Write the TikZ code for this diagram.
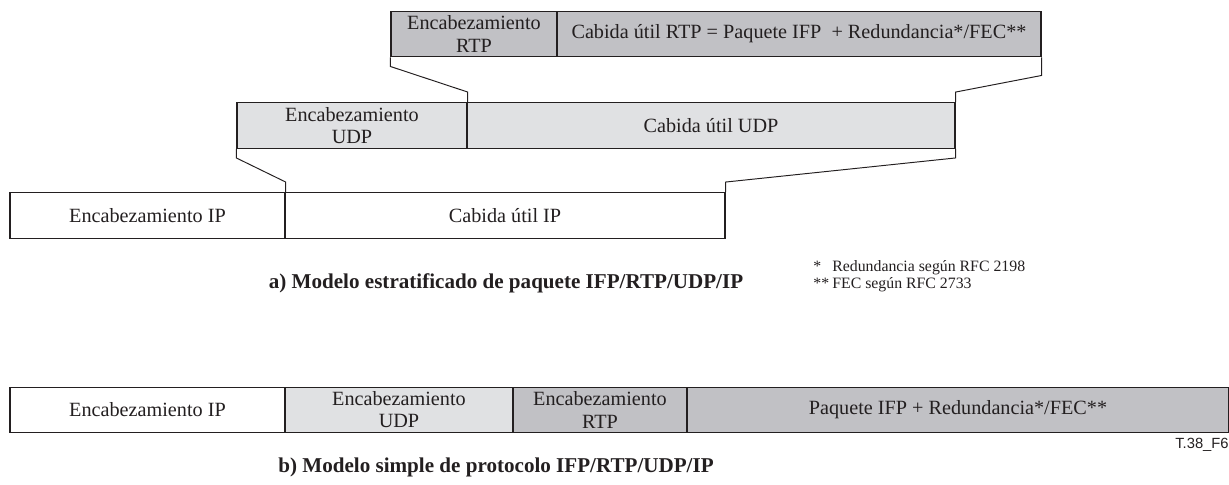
\documentclass[tikz,border=0pt]{standalone}
\usepackage{fontspec}
\setmainfont{Liberation Serif}
\newfontfamily\labelsans{Liberation Sans}
\usepackage{tikz}
\definecolor{rtpgrey}{RGB}{193,193,197}
\definecolor{udpgrey}{RGB}{224,225,227}
\definecolor{inkgrey}{RGB}{35,31,32}
\tikzstyle{cell}=[draw=inkgrey, line width=0.8pt, inner sep=0pt, align=center, text=inkgrey, font=\fontsize{11.5}{12.6}\selectfont]
\tikzstyle{row}=[cell, minimum height=0.91cm]
\tikzstyle{funnel}=[draw=inkgrey, line width=0.55pt]
\tikzstyle{caption}=[text=inkgrey, font=\fontsize{12}{14}\selectfont\bfseries]

\begin{document}
\begin{tikzpicture}
        \useasboundingbox (0, 0) rectangle (24.58, 9.70);
        % a) layered packet
        \node[row, fill=rtpgrey, minimum width=3.32cm] (rtph) at (9.48, 9.02) {Encabezamiento\\RTP};
        \node[row, fill=rtpgrey, minimum width=9.68cm] (rtpp) at (15.98, 9.02) {Cabida útil RTP = Paquete IFP\ \ + Redundancia*/FEC**};
        \node[row, fill=udpgrey, minimum width=4.60cm] (udph) at (7.04, 7.19) {Encabezamiento\\UDP};
        \node[row, fill=udpgrey, minimum width=9.76cm] (udpp) at (14.22, 7.19) {Cabida útil UDP};
        \node[row, fill=white, minimum width=5.50cm] (iph) at (2.95, 5.39) {Encabezamiento IP};
        \node[row, fill=white, minimum width=8.80cm] (ipp) at (10.10, 5.39) {Cabida útil IP};
        \draw[funnel] (rtph.south west) -- ++(0, -0.18) -- ([yshift=0.2cm]udph.north east) -- (udph.north east);
        \draw[funnel] (rtpp.south east) -- ++(0, -0.36) -- ([yshift=0.2cm]udpp.north east) -- (udpp.north east);
        \draw[funnel] (udph.south west) -- ++(0, -0.18) -- ([yshift=0.2cm]iph.north east) -- (iph.north east);
        \draw[funnel] (udpp.south east) -- ++(0, -0.18) -- ([yshift=0.2cm]ipp.north east) -- (ipp.north east);
        \node[caption] (capa) at (10.12, 4.04) {a) Modelo estratificado de paquete IFP/RTP/UDP/IP};
        \node[anchor=west, inner sep=0pt, align=left, text=inkgrey, font=\fontsize{9}{9.8}\selectfont] (notes) at (16.26, 4.17)
            {\makebox[1.2em][l]{*}Redundancia según RFC 2198\\\makebox[1.2em][l]{**}FEC según RFC 2733};
        % b) simple model
        \node[row, fill=white, minimum width=5.50cm] (bip) at (2.95, 1.50) {Encabezamiento IP};
        \node[row, fill=udpgrey, minimum width=4.56cm] (budp) at (7.98, 1.50) {Encabezamiento\\UDP};
        \node[row, fill=rtpgrey, minimum width=3.48cm] (brtp) at (12.00, 1.50) {Encabezamiento\\RTP};
        \node[row, fill=rtpgrey, minimum width=10.84cm] (bpay) at (19.16, 1.50) {Paquete IFP + Redundancia*/FEC**};
        \node[caption] (capb) at (9.92, 0.36) {b) Modelo simple de protocolo IFP/RTP/UDP/IP};
        \node[anchor=east, inner sep=0pt, text=inkgrey, font=\labelsans\fontsize{8.4}{10}\selectfont] (tag) at (24.58, 0.80) {T.38\_F6};
    \end{tikzpicture}
\end{document}
